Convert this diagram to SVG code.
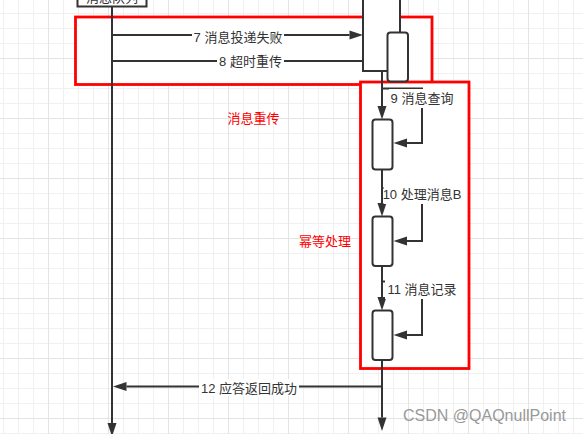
<svg xmlns="http://www.w3.org/2000/svg" width="583" height="434" viewBox="0 0 583 434">
<style>
.ln{stroke:#333;stroke-width:2;fill:none}
.box{fill:#fff;stroke:#333;stroke-width:2}
.frame{fill:#fff;stroke:#ff0000;stroke-width:2.8}
.t{font-family:"Liberation Sans","Noto Sans CJK SC",sans-serif;font-size:13px;fill:#333}
.rt{font-family:"Liberation Sans","Noto Sans CJK SC",sans-serif;font-size:13px;fill:#ff0000}
.bg{fill:#fff}
</style>
<defs>
<pattern id="grid" patternUnits="userSpaceOnUse" x="48" y="58" width="60" height="60">
<rect x="0" y="0" width="60" height="60" fill="#fff"/>
<g fill="#f0f0f0">
<rect x="15" y="0" width="1" height="60"/><rect x="30" y="0" width="1" height="60"/><rect x="45" y="0" width="1" height="60"/>
<rect x="0" y="15" width="60" height="1"/><rect x="0" y="30" width="60" height="1"/><rect x="0" y="45" width="60" height="1"/>
</g>
<g fill="#e4e4e4"><rect x="0" y="0" width="1" height="60"/><rect x="0" y="0" width="60" height="1"/></g>
</pattern>
<marker id="ah" markerUnits="userSpaceOnUse" markerWidth="14" markerHeight="10" refX="0" refY="4.5" orient="auto" overflow="visible">
<path d="M0,0 L13.5,4.5 L0,9 z" fill="#333"/>
</marker>
</defs>
<rect x="0" y="0" width="583" height="434" fill="url(#grid)"/>

<g id="frame-retransmit">
<rect class="frame" x="75.5" y="17" width="356.5" height="67.5"/>
<text class="rt" x="253.5" y="123" text-anchor="middle">消息重传</text>
</g>
<g id="frame-idempotent">
<rect class="frame" x="360.5" y="82" width="108.5" height="286.5"/>
<text class="rt" x="325" y="245.5" text-anchor="middle">幂等处理</text>
</g>

<g id="connectors">
<line class="ln" x1="112" y1="7" x2="112" y2="423" marker-end="url(#ah)"/>
<line class="ln" x1="112" y1="35" x2="349.5" y2="35" marker-end="url(#ah)"/>
<line class="ln" x1="112" y1="61" x2="363" y2="61"/>
<line class="ln" x1="382" y1="71" x2="382" y2="106" marker-end="url(#ah)"/>
<path class="ln" d="M382,88.5 H422 V143 H407" marker-end="url(#ah)"/>
<line class="ln" x1="382" y1="169.5" x2="382" y2="203" marker-end="url(#ah)"/>
<path class="ln" d="M382,188 H422 V241 H407" marker-end="url(#ah)"/>
<line class="ln" x1="382" y1="266" x2="382" y2="297" marker-end="url(#ah)"/>
<path class="ln" d="M382,281.5 H422 V335 H407" marker-end="url(#ah)"/>
<line class="ln" x1="382" y1="360" x2="382" y2="417.5" marker-end="url(#ah)"/>
<line class="ln" x1="382" y1="386.5" x2="126.5" y2="386.5" marker-end="url(#ah)"/>
</g>

<g id="node-queue">
<rect class="box" x="77.5" y="-20" width="69" height="26.5"/>
<text class="t" x="112" y="1.5" text-anchor="middle" font-size="12">消息队列</text>
</g>
<g id="node-consumer-activation">
<rect class="box" x="363" y="-5" width="37" height="76"/>
</g>
<g id="node-activation-retry">
<rect class="box" x="387.5" y="32.5" width="20.5" height="49" rx="3"/>
</g>
<g id="node-activation-query">
<rect class="box" x="372.5" y="119.5" width="20" height="50" rx="3"/>
</g>
<g id="node-activation-process">
<rect class="box" x="372.5" y="216.5" width="20" height="49.5" rx="3"/>
</g>
<g id="node-activation-record">
<rect class="box" x="372.5" y="310.5" width="20" height="49.5" rx="3"/>
</g>

<g id="labels">
<rect class="bg" x="192" y="28" width="92" height="17"/>
<text class="t" x="238" y="41.5" text-anchor="middle">7 消息投递失败</text>
<rect class="bg" x="217" y="53" width="67" height="17"/>
<text class="t" x="250.5" y="66" text-anchor="middle">8 超时重传</text>
<rect class="bg" x="389" y="89" width="66" height="19"/>
<text class="t" x="422" y="103" text-anchor="middle">9 消息查询</text>
<rect class="bg" x="383.5" y="185" width="77" height="19"/>
<text class="t" x="422" y="199" text-anchor="middle">10 处理消息B</text>
<rect class="bg" x="385" y="280" width="74" height="19"/>
<text class="t" x="422" y="294" text-anchor="middle">11 消息记录</text>
<rect class="bg" x="199" y="379" width="100" height="17"/>
<text class="t" x="249" y="393" text-anchor="middle">12 应答返回成功</text>
</g>

<text x="484.5" y="420.5" text-anchor="middle" font-family="Liberation Sans, sans-serif" font-size="16" fill="#999">CSDN @QAQnullPoint</text>
</svg>
